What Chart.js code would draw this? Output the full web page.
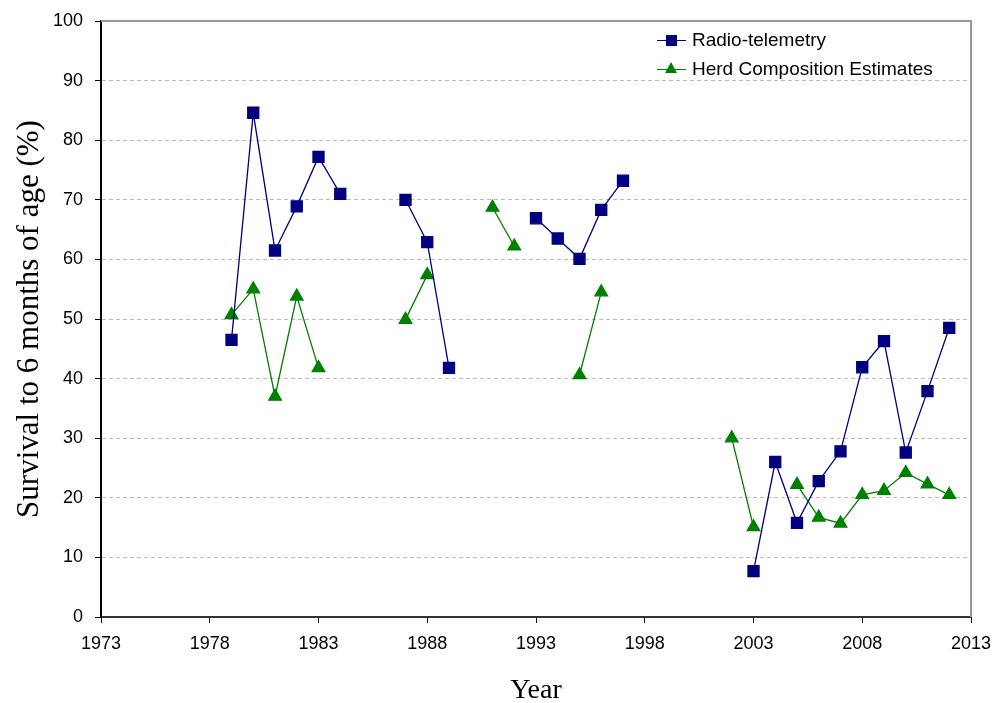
<!DOCTYPE html>
<html>
<head>
<meta charset="utf-8">
<script src="https://cdn.jsdelivr.net/npm/chart.js@4"></script>
<style>
  html, body { margin: 0; padding: 0; background: #fff; }
  #wrap { position: relative; width: 999px; height: 703px; }
  #legend { position: absolute; left: 655px; top: 27px; font-family: "Liberation Sans", Arial, sans-serif; font-size: 19px; color: #000; }
  .item { position: relative; height: 29px; line-height: 26px; padding-left: 37px; white-space: nowrap; }
  .item .ln { position: absolute; left: 2px; top: 13px; width: 29px; height: 1px; }
  .item .mk { position: absolute; }
</style>
</head>
<body>
<div id="wrap">
  <canvas id="c" width="999" height="703"></canvas>
  <div id="legend">
    <div class="item"><span class="ln" style="background:#000080"></span><span class="mk" style="left:11px;top:8px;width:11px;height:11px;background:#000080"></span>Radio-telemetry</div>
    <div class="item"><span class="ln" style="background:#008000"></span><span class="mk" style="left:10px;top:6px;width:0;height:0;border-left:6px solid transparent;border-right:6px solid transparent;border-bottom:11px solid #008000"></span>Herd Composition Estimates</div>
  </div>
</div>
<script>
// годы и значения (null = нет данных)
const years = [1979, 1980, 1981, 1982, 1983, 1984, 1985, 1986, 1987, 1988, 1989, 1990,
  1991, 1992, 1993, 1994, 1995, 1996, 1997, 1998, 1999, 2000, 2001, 2002, 2003, 2004,
  2005, 2006, 2007, 2008, 2009, 2010, 2011, 2012];

const radioTelemetry = [46.5, 84.6, 61.5, 68.9, 77.2, 71.0, null, null, 70.0, 62.9, 41.8, null,
  null, null, 66.9, 63.5, 60.1, 68.3, 73.2, null, null, null, null, null, 7.7, 26.0,
  15.8, 22.8, 27.8, 41.9, 46.3, 27.6, 37.9, 48.5];

const herdComposition = [50.7, 55.0, 37.0, 53.8, 41.8, null, null, null, 49.9, 57.4, null, null,
  68.7, 62.2, null, null, 40.6, 54.5, null, null, null, null, null, 30.0, 15.1, null,
  22.2, 16.7, 15.7, 20.5, 21.2, 24.2, 22.3, 20.5];

const xTicks = [1973, 1978, 1983, 1988, 1993, 1998, 2003, 2008, 2013];
const yTicks = [0, 10, 20, 30, 40, 50, 60, 70, 80, 90, 100];

const toPoints = vals => years.map((y, i) => ({ x: y, y: vals[i] }));

// рамка сверху и справа (серая)
const frame = {
  id: "frame",
  afterDraw(chart) {
    const { ctx, chartArea: a } = chart;
    ctx.save();
    ctx.strokeStyle = "#999";
    ctx.lineWidth = 2;
    ctx.beginPath();
    ctx.moveTo(a.left, a.top);
    ctx.lineTo(a.right, a.top);
    ctx.lineTo(a.right, a.bottom);
    ctx.stroke();
    ctx.restore();
  }
};

new Chart(document.getElementById("c").getContext("2d"), {
  type: "line",
  data: {
    datasets: [
      {
        label: "Radio-telemetry",
        data: toPoints(radioTelemetry),
        borderColor: "#000080",
        backgroundColor: "#000080",
        borderWidth: 1.3,
        pointStyle: "rect",
        pointRadius: 7.8,
        pointHoverRadius: 7.8,
        spanGaps: false,
        tension: 0
      },
      {
        label: "Herd Composition Estimates",
        data: toPoints(herdComposition),
        borderColor: "#008000",
        backgroundColor: "#008000",
        borderWidth: 1.3,
        pointStyle: "triangle",
        pointRadius: 7.3,
        pointHoverRadius: 7.3,
        spanGaps: false,
        tension: 0
      }
    ]
  },
  options: {
    responsive: false,
    animation: false,
    layout: { padding: { top: 21, right: 28, left: 0, bottom: 0 } },
    plugins: { legend: { display: false }, tooltip: { enabled: false } },
    scales: {
      x: {
        type: "linear",
        min: 1973,
        max: 2013,
        afterBuildTicks: s => { s.ticks = xTicks.map(v => ({ value: v })); },
        afterFit: s => { s.height = 86; s.paddingLeft = 0; s.paddingRight = 0; },
        grid: { drawOnChartArea: false, drawTicks: true, tickLength: 6, color: "#000" },
        border: { color: "#333", width: 2 },
        ticks: {
          color: "#000",
          padding: 10,
          maxRotation: 0,
          font: { family: "'Liberation Sans', Arial, sans-serif", size: 18 },
          callback: v => String(v)
        },
        title: {
          display: true,
          text: "Year",
          color: "#000",
          padding: { top: 0, bottom: 0 },
          font: { family: "'Liberation Serif', 'Times New Roman', serif", size: 28, lineHeight: 0.85 }
        }
      },
      y: {
        min: 0,
        max: 100,
        afterBuildTicks: s => { s.ticks = yTicks.map(v => ({ value: v })); },
        afterFit: s => { s.width = 101; s.paddingTop = 0; s.paddingBottom = 0; },
        grid: { color: "#bbb", tickColor: "#000", tickLength: 6, tickBorderDash: [], lineWidth: 1 },
        border: { color: "#000", width: 2, dash: [4, 3] },
        ticks: {
          color: "#000",
          padding: 12,
          font: { family: "'Liberation Sans', Arial, sans-serif", size: 18 }
        },
        title: {
          display: true,
          text: "Survival to 6 months of age (%)",
          color: "#000",
          padding: { top: 0, bottom: 0 },
          font: { family: "'Liberation Serif', 'Times New Roman', serif", size: 31, lineHeight: 1.9 }
        }
      }
    }
  },
  plugins: [frame]
});
</script>
</body>
</html>
